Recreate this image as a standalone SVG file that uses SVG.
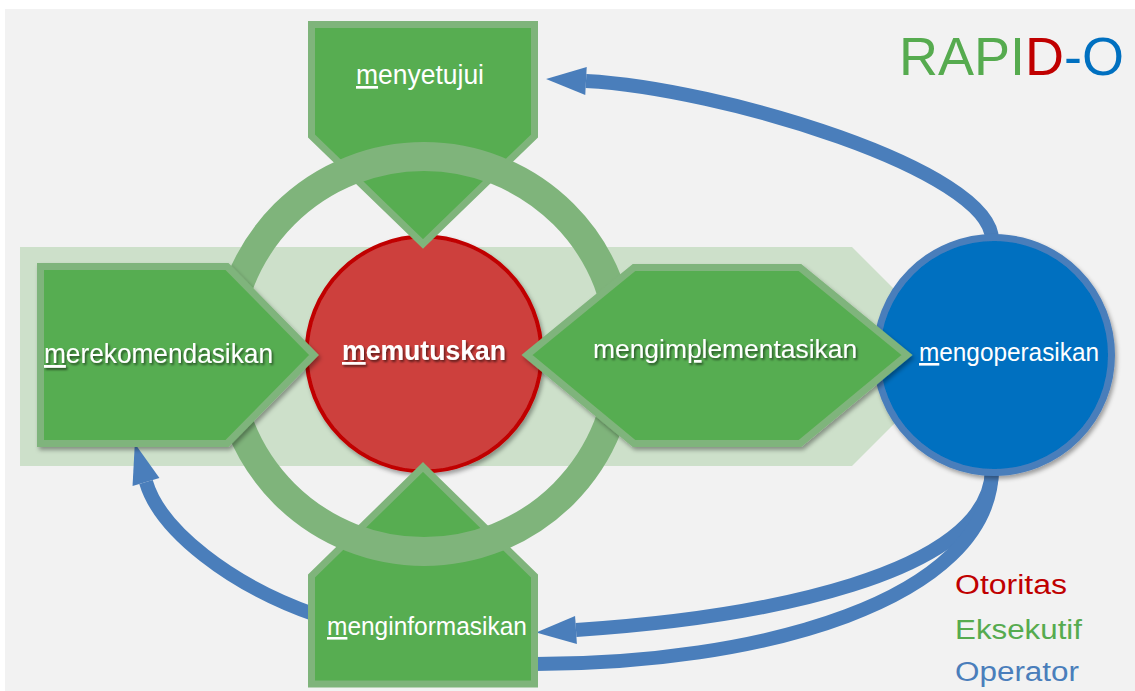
<svg xmlns="http://www.w3.org/2000/svg" width="1135" height="691" viewBox="0 0 1135 691">
  <defs>
    <style>
      .lbl { font-family: "Liberation Sans", Arial, sans-serif; fill: #ffffff; }
      .green { fill: #57ad51; stroke: #7fb47b; stroke-width: 7; stroke-linejoin: miter; }
      .conn { fill: none; stroke: #4a7ebb; stroke-width: 14; }
      .legend { font-family: "Liberation Sans", Arial, sans-serif; font-size: 27px; }
    </style>
    <filter id="shadow" x="-10%" y="-10%" width="130%" height="130%">
      <feDropShadow dx="2" dy="3" stdDeviation="2" flood-color="#000000" flood-opacity="0.35"/>
    </filter>
    <filter id="tshadow" x="-5%" y="-20%" width="115%" height="160%">
      <feDropShadow dx="1.5" dy="2" stdDeviation="1" flood-color="#000000" flood-opacity="0.55"/>
    </filter>
    <marker id="ah" markerUnits="userSpaceOnUse" markerWidth="42" markerHeight="30" refX="0" refY="14" orient="auto" overflow="visible">
      <path d="M0,0 L40,14 L0,28 Z" fill="#4a7ebb"/>
    </marker>
  </defs>

  <!-- background -->
  <rect x="0" y="0" width="1135" height="691" fill="#ffffff"/>
  <rect x="5" y="9" width="1130" height="682" fill="#f2f2f2"/>

  <!-- light band -->
  <polygon id="band" points="20,247 852,247 961.5,356.5 852,466 20,466" fill="#cde0ca"/>

  <!-- connectors -->
  <g id="connectors">
    <path class="conn" d="M 992 240 C 992 170, 720 88, 586 81" marker-end="url(#ah)"/>
    <path class="conn" d="M 992 470 C 990 575, 760 618, 576 630" marker-end="url(#ah)"/>
    <path class="conn" d="M 992 470 C 990 600, 760 665, 530 664"/>
    <path class="conn" d="M 316 615 C 230 585, 160 530, 146 482" marker-end="url(#ah)"/>
  </g>

  <!-- memutuskan (red circle) -->
  <g id="node-memutuskan">
    <circle cx="424" cy="354" r="117.5" fill="#cd3f3e" stroke="#c00000" stroke-width="4" filter="url(#shadow)"/>
    <text class="lbl" x="342" y="360" font-size="27" font-weight="bold" textLength="164" lengthAdjust="spacingAndGlyphs" filter="url(#tshadow)"><tspan text-decoration="underline">m</tspan>emutuskan</text>
  </g>

  <!-- menyetujui (top pentagon) -->
  <g id="node-menyetujui">
    <path class="green" d="M 311.5 24.5 H 534.5 V 136 L 423 244 L 311.5 136 Z"/>
    <text class="lbl" x="356" y="84" font-size="27" textLength="128" lengthAdjust="spacingAndGlyphs"><tspan text-decoration="underline">m</tspan>enyetujui</text>
  </g>

  <!-- menginformasikan (bottom pentagon) -->
  <g id="node-menginformasikan">
    <path class="green" d="M 423 467 L 534.5 576 V 684 H 311.5 V 576 Z"/>
    <text class="lbl" x="327" y="635" font-size="26" textLength="200" lengthAdjust="spacingAndGlyphs"><tspan text-decoration="underline">m</tspan>enginformasikan</text>
  </g>

  <!-- ring -->
  <circle id="ring" cx="424" cy="354" r="197.5" fill="none" stroke="#7fb47b" stroke-width="29"/>

  <!-- merekomendasikan (left arrow) -->
  <g id="node-merekomendasikan">
    <path class="green" d="M 40.5 266.5 H 227 L 314 355 L 227 443.5 H 40.5 Z" filter="url(#shadow)"/>
    <text class="lbl" x="44" y="363" font-size="28" textLength="229" lengthAdjust="spacingAndGlyphs" filter="url(#tshadow)"><tspan text-decoration="underline">m</tspan>erekomendasikan</text>
  </g>

  <!-- mengoperasikan (blue circle) -->
  <g id="node-mengoperasikan">
    <circle cx="994" cy="355" r="117.5" fill="#0070c0" stroke="#4a7ebb" stroke-width="7" filter="url(#shadow)"/>
    <text class="lbl" x="919" y="361" font-size="26" textLength="180" lengthAdjust="spacingAndGlyphs"><tspan text-decoration="underline">m</tspan>engoperasikan</text>
  </g>

  <!-- mengimplementasikan (hexagon) -->
  <g id="node-mengimplementasikan">
    <path class="green" d="M 527 355 L 634 267.5 H 800 L 907 355 L 800 443.5 H 634 Z" filter="url(#shadow)"/>
    <text class="lbl" x="593" y="358" font-size="26.4" filter="url(#tshadow)">mengim<tspan text-decoration="underline">p</tspan>lementasikan</text>
  </g>

  <!-- title -->
  <g id="title">
    <text x="899" y="75" font-family="Liberation Sans, Arial, sans-serif" font-size="54"><tspan fill="#56ab4f">RAPI</tspan><tspan fill="#c00000">D</tspan><tspan fill="#0070c0">-O</tspan></text>
  </g>

  <!-- legend -->
  <g id="legend">
    <text class="legend" x="955" y="594" fill="#c00000" textLength="112" lengthAdjust="spacingAndGlyphs">Otoritas</text>
    <text class="legend" x="955" y="639" fill="#56ab4f" textLength="127" lengthAdjust="spacingAndGlyphs">Eksekutif</text>
    <text class="legend" x="955" y="681" fill="#4a7ebb" textLength="124" lengthAdjust="spacingAndGlyphs">Operator</text>
  </g>
</svg>
